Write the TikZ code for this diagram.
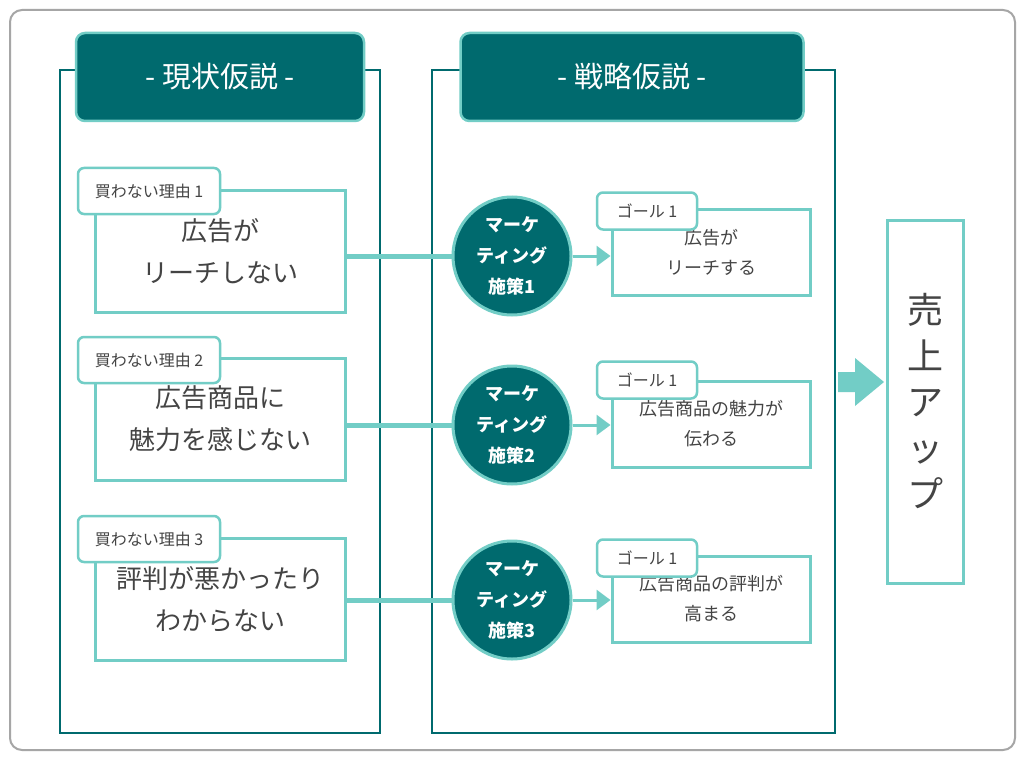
\documentclass[tikz,border=0pt]{standalone}
\usepackage{fontspec}
\setmainfont{Noto Sans CJK JP}
\usepackage{tikz}
\usetikzlibrary{arrows.meta, positioning, shapes}
\definecolor{dteal}{HTML}{006A6E}
\definecolor{lteal}{HTML}{72CDC6}
\definecolor{txt}{HTML}{444444}
\tikzset{
  panel/.style={draw=dteal, line width=2pt},
  head/.style={draw=lteal, fill=dteal, line width=2.5pt, rounded corners=9pt, text=white,
    font=\fontsize{29}{34}\selectfont},
  box/.style={draw=lteal, fill=white, line width=3pt, text=txt, align=center},
  tag/.style={draw=lteal, fill=white, line width=2.5pt, rounded corners=6pt, text=txt,
    font=\fontsize{16}{18}\selectfont},
  measure/.style={circle, draw=lteal, fill=dteal, line width=3pt, minimum size=118pt,
    text=white, align=center, font=\bfseries\fontsize{18}{31}\selectfont},
  link/.style={lteal, line width=5pt},
  goalarrow/.style={lteal, line width=3pt, -{Triangle[length=14pt,width=20pt]}}
}
\begin{document}
\begin{tikzpicture}[x=1pt, y=-1pt]
  \useasboundingbox (0,0) rectangle (1024,762);
  \fill[white] (0,0) rectangle (1024,762);
  \draw[gray!70, line width=2pt, rounded corners=12pt] (10,10) rectangle (1015,750);

  % Panels
  \draw[panel] (60,70) rectangle (380,733);
  \draw[panel] (432,70) rectangle (835,733);
  \node[head, minimum width=288pt, minimum height=88pt] (h1) at (220,77) {- 現状仮説 -};
  \node[head, minimum width=343pt, minimum height=88pt] (h2) at (632,77) {- 戦略仮説 -};

  % Reasons
  \foreach \i/\y/\t in {1/251.5/{広告が\\リーチしない}, 2/419/{広告商品に\\魅力を感じない}, 3/599/{評判が悪かったり\\わからない}} {
    \node[box, minimum width=250pt, minimum height=122pt, font=\fontsize{26}{42}\selectfont] (r\i) at (220,\y) {\t};
  }
  \node[tag, minimum width=142pt, minimum height=46pt] (tr1) at (149,191) {買わない理由 1};
  \node[tag, minimum width=142pt, minimum height=46pt] (tr2) at (149,360) {買わない理由 2};
  \node[tag, minimum width=142pt, minimum height=46pt] (tr3) at (149,539) {買わない理由 3};

  % Measures and goals
  \foreach \i/\y/\gy/\t in {1/256/252/{広告が\\リーチする}, 2/425/424/{広告商品の魅力が\\伝わる}, 3/600/599/{広告商品の評判が\\高まる}} {
    \node[measure] (m\i) at (512,\y) {マーケ\\ティング\\施策\i};
    \node[box, minimum width=198pt, minimum height=86pt, font=\fontsize{18}{30}\selectfont] (g\i) at (711,\gy) {\t};
    \draw[link] (r\i.east |- m\i) -- (m\i.west);
    \draw[goalarrow] (m\i.east) -- (g\i.west |- m\i);
  }
  \node[tag, minimum width=100pt, minimum height=37pt] (tg1) at (647,211) {ゴール 1};
  \node[tag, minimum width=100pt, minimum height=37pt] (tg2) at (647,380) {ゴール 1};
  \node[tag, minimum width=100pt, minimum height=37pt] (tg3) at (647,558) {ゴール 1};

  % Result
  \node[box, minimum width=76pt, minimum height=363pt, font=\fontsize{36}{46}\selectfont] (up) at (925,401.5) {売\\上\\ア\\ッ\\プ};
  \fill[lteal] (838,372) -- (855,372) -- (855,358) -- (884,382) -- (855,406) -- (855,392) -- (838,392) -- cycle;
\end{tikzpicture}
\end{document}
